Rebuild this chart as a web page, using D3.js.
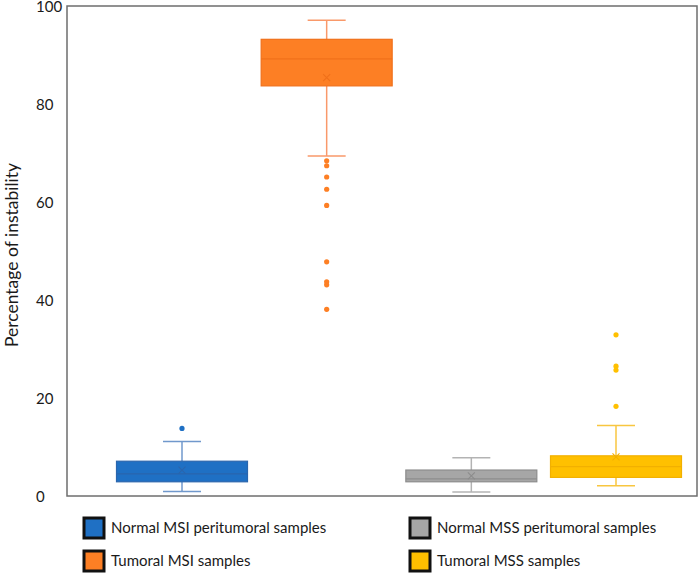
<!DOCTYPE html>
<html>
<head>
<meta charset="utf-8">
<script src="https://cdn.jsdelivr.net/npm/d3@7"></script>
<style>
  body { margin: 0; background: #fff; }
  svg { display: block; }
  text { font-family: Lato, "Open Sans", sans-serif; fill: #1a1a1a; }
</style>
</head>
<body>
<svg id="canvas" width="699" height="574"></svg>
<script>
const series = ["Normal MSI peritumoral samples", "Tumoral MSI samples", "Normal MSS peritumoral samples", "Tumoral MSS samples"];
const whiskerLow = [0.9, 69.4, 0.8, 2.1];
const q1 = [2.9, 83.7, 2.9, 3.8];
const median = [4.5, 89.2, 3.5, 6.0];
const q3 = [7.1, 93.2, 5.3, 8.2];
const whiskerHigh = [11.1, 97.1, 7.8, 14.4];
const means = [5.3, 85.4, 4.1, 8.0];
const outliers = [
    [13.8],
    [68.4, 67.4, 65.1, 62.6, 59.3, 47.8, 43.7, 43.1, 38.1],
    [],
    [32.9, 26.5, 25.7, 18.3]
];
const yTicks = [0, 20, 40, 60, 80, 100];

const fills = ["#1f70c4", "#fd7f24", "#a6a6a6", "#ffc000"];
const strokes = ["#2a65ad", "#f0701a", "#8c8c8c", "#f2b000"];
const whiskerColors = ["#7098cc", "#f9996a", "#b3b3b3", "#f8c640"];

const svg = d3.select("#canvas");

const plotLeft = 67, plotRight = 697, plotTop = 6, plotBottom = 496;

const y = d3.scaleLinear().domain([0, 100]).range([plotBottom, plotTop]);
const x = d3.scalePoint().domain(series).range([182, 616]);
const boxW = 131;
const capW = 38;

// Marco del área de trazado
svg.append("rect")
    .attr("x", plotLeft)
    .attr("y", plotTop)
    .attr("width", plotRight - plotLeft)
    .attr("height", plotBottom - plotTop)
    .attr("fill", "none")
    .attr("stroke", "#6e6e6e")
    .attr("stroke-width", 1.5);

// Etiquetas del eje Y
const yAxis = svg.append("g");
yAxis.selectAll("text")
    .data(yTicks)
    .join("text")
    .attr("x", 36)
    .attr("y", d => y(d) + 6)
    .attr("font-size", 15)
    .text(d => d);

svg.append("text")
    .attr("transform", `translate(18, ${(plotTop + plotBottom) / 2 + 4}) rotate(-90)`)
    .attr("text-anchor", "middle")
    .attr("font-size", 17.5)
    .text("Percentage of instability");

// Cajas
series.forEach((s, i) => {
    const cx = x(s);
    const g = svg.append("g");

    // bigotes
    g.append("line")
        .attr("x1", cx).attr("x2", cx)
        .attr("y1", y(q3[i])).attr("y2", y(whiskerHigh[i]))
        .attr("stroke", whiskerColors[i]).attr("stroke-width", 1.5);
    g.append("line")
        .attr("x1", cx).attr("x2", cx)
        .attr("y1", y(q1[i])).attr("y2", y(whiskerLow[i]))
        .attr("stroke", whiskerColors[i]).attr("stroke-width", 1.5);
    [whiskerHigh[i], whiskerLow[i]].forEach(v => {
        g.append("line")
            .attr("x1", cx - capW / 2).attr("x2", cx + capW / 2)
            .attr("y1", y(v)).attr("y2", y(v))
            .attr("stroke", whiskerColors[i]).attr("stroke-width", 1.5);
    });

    g.append("rect")
        .attr("x", cx - boxW / 2)
        .attr("y", y(q3[i]))
        .attr("width", boxW)
        .attr("height", y(q1[i]) - y(q3[i]))
        .attr("fill", fills[i])
        .attr("stroke", strokes[i])
        .attr("stroke-width", 1.2);

    g.append("line")
        .attr("x1", cx - boxW / 2).attr("x2", cx + boxW / 2)
        .attr("y1", y(median[i])).attr("y2", y(median[i]))
        .attr("stroke", strokes[i]).attr("stroke-width", 1.2);

    // media (x)
    const my = y(means[i]);
    g.append("path")
        .attr("d", `M${cx - 3.5},${my - 3.5}L${cx + 3.5},${my + 3.5}M${cx - 3.5},${my + 3.5}L${cx + 3.5},${my - 3.5}`)
        .attr("stroke", strokes[i])
        .attr("stroke-width", 1.1);

    g.selectAll("circle")
        .data(outliers[i])
        .join("circle")
        .attr("cx", cx)
        .attr("cy", d => y(d))
        .attr("r", 2.6)
        .attr("fill", fills[i]);
});

// Leyenda
const legend = svg.append("g");
series.forEach((s, i) => {
    const col = Math.floor(i / 2);
    const row = i % 2;
    const lx = [84, 410][col];
    const ly = [518, 551][row];

    legend.append("rect")
        .attr("x", lx)
        .attr("y", ly)
        .attr("width", 20)
        .attr("height", 20)
        .attr("fill", fills[i])
        .attr("stroke", "#111")
        .attr("stroke-width", 3);

    legend.append("text")
        .attr("x", lx + 27)
        .attr("y", ly + 15)
        .attr("font-size", 15)
        .text(s);
});
</script>
</body>
</html>
